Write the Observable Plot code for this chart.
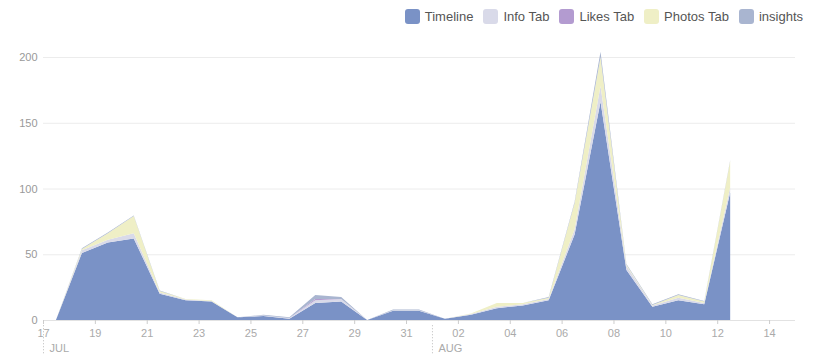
<!DOCTYPE html>
<html><head><meta charset="utf-8">
<script src="https://cdn.jsdelivr.net/npm/d3@7"></script>
<script src="https://cdn.jsdelivr.net/npm/@observablehq/plot@0.6"></script>
<style>
body{margin:0;background:#fff;font-family:Arial,"Liberation Sans",sans-serif;}
#legend{height:32px;display:flex;justify-content:flex-end;align-items:center;padding-right:16px;font-size:13px;color:#555;box-sizing:border-box}
.item{display:flex;align-items:center;margin-left:10px}
.sw{width:15px;height:15px;border-radius:3px;margin-right:5px}
</style></head><body>
<div id="legend"></div><div id="chart"></div>
<script>
const dates = ["2013-07-17","2013-07-18","2013-07-19","2013-07-20","2013-07-21","2013-07-22","2013-07-23","2013-07-24","2013-07-25","2013-07-26","2013-07-27","2013-07-28","2013-07-29","2013-07-30","2013-07-31","2013-08-01","2013-08-02","2013-08-03","2013-08-04","2013-08-05","2013-08-06","2013-08-07","2013-08-08","2013-08-09","2013-08-10","2013-08-11","2013-08-12"];
const timeline  = [0,51,59,62,20,15,14,2,3,1,13,14,0,7,7,1,4,9,11,15,65,166,38,10,15,12,97];
const infoTab   = [0,2,2,4,1,0.5,0.5,0,0.5,0.5,2,2,0,0.5,0.5,0,0.5,1,1,1,4,12,3,1,2,1,4];
const likesTab  = [0,0,0,0,0,0,0,0,0,0,1,0,0,0,0,0,0,0,0,0,0,0,0,0,0,0,0];
const photosTab = [0,1,5,13,1,0.5,0.5,0,0,0,0,0,0,0,0,0,0.5,3,1,1,20,22,1,0.5,2,1,20];
const insights  = [0,0.5,0.5,0.5,0.5,0,0,0,0.5,0.5,3,1.5,0,0.5,0.5,0,0,0,0,0.5,1,4,0.5,0.5,0.5,0.5,0.5];
const seriesNames = ["Timeline","Info Tab","Likes Tab","Photos Tab","insights"];
const seriesColors = ["#7a92c6","#d9dae9","#b39bd0","#efefc6","#a9b5d0"];
const yTicks = [0,50,100,150,200];
const xTickDates = ["2013-07-17","2013-07-19","2013-07-21","2013-07-23","2013-07-25","2013-07-27","2013-07-29","2013-07-31","2013-08-02","2013-08-04","2013-08-06","2013-08-08","2013-08-10","2013-08-12","2013-08-14"];
const monthStarts = ["2013-07-17","2013-08-01"];
const monthLabels = ["JUL","AUG"];

const seriesValues = [timeline, infoTab, likesTab, photosTab, insights];
const data = [];
seriesNames.forEach((s, i) => {
  dates.forEach((d, j) => {
    data.push({date: new Date(d + "T12:00:00Z"), series: s, value: seriesValues[i][j]});
  });
});
const months = monthStarts.map((d, i) => ({date: new Date(d + "T00:00:00Z"), label: monthLabels[i]}));

// legend
const lg = document.getElementById("legend");
seriesNames.forEach((s, i) => {
  const it = document.createElement("div"); it.className = "item";
  const sw = document.createElement("div"); sw.className = "sw"; sw.style.background = seriesColors[i];
  const tx = document.createElement("span"); tx.textContent = s;
  it.appendChild(sw); it.appendChild(tx); lg.appendChild(it);
});

const chart = Plot.plot({
  width: 819, height: 322,
  marginLeft: 43, marginRight: 24, marginTop: 25, marginBottom: 34,
  style: {fontFamily: "Arial, 'Liberation Sans', sans-serif", background: "#fff"},
  x: {type: "utc", domain: [new Date("2013-07-17T00:00:00Z"), new Date("2013-08-15T00:00:00Z")]},
  y: {domain: [0, 200]},
  color: {domain: seriesNames, range: seriesColors},
  marks: [
    Plot.gridY(yTicks, {stroke: "#ececec", strokeOpacity: 1}),
    Plot.areaY(data, {x: "date", y: "value", fill: "series", order: seriesNames, curve: "linear", fillOpacity: 1}),
    Plot.ruleY([0], {stroke: "#e2e2e2"}),
    Plot.axisY({ticks: yTicks, tickSize: 0, tickPadding: 6, fill: "#999", fontSize: 11, label: null}),
    Plot.axisX({ticks: xTickDates.map(d => new Date(d + "T00:00:00Z")), tickFormat: d3.utcFormat("%d"), tickSize: 4, stroke: "#ccc", fill: "#aaa", fontSize: 11, tickPadding: 5, label: null}),
    Plot.ruleX(months, {x: "date", y1: -4, y2: -26, stroke: "#bbb", strokeDasharray: "1,2"}),
    Plot.text(months, {x: "date", y: -21, text: "label", dx: 6, textAnchor: "start", lineAnchor: "middle", fill: "#aaa", fontSize: 11})
  ]
});
document.getElementById("chart").appendChild(chart);
</script></body></html>
